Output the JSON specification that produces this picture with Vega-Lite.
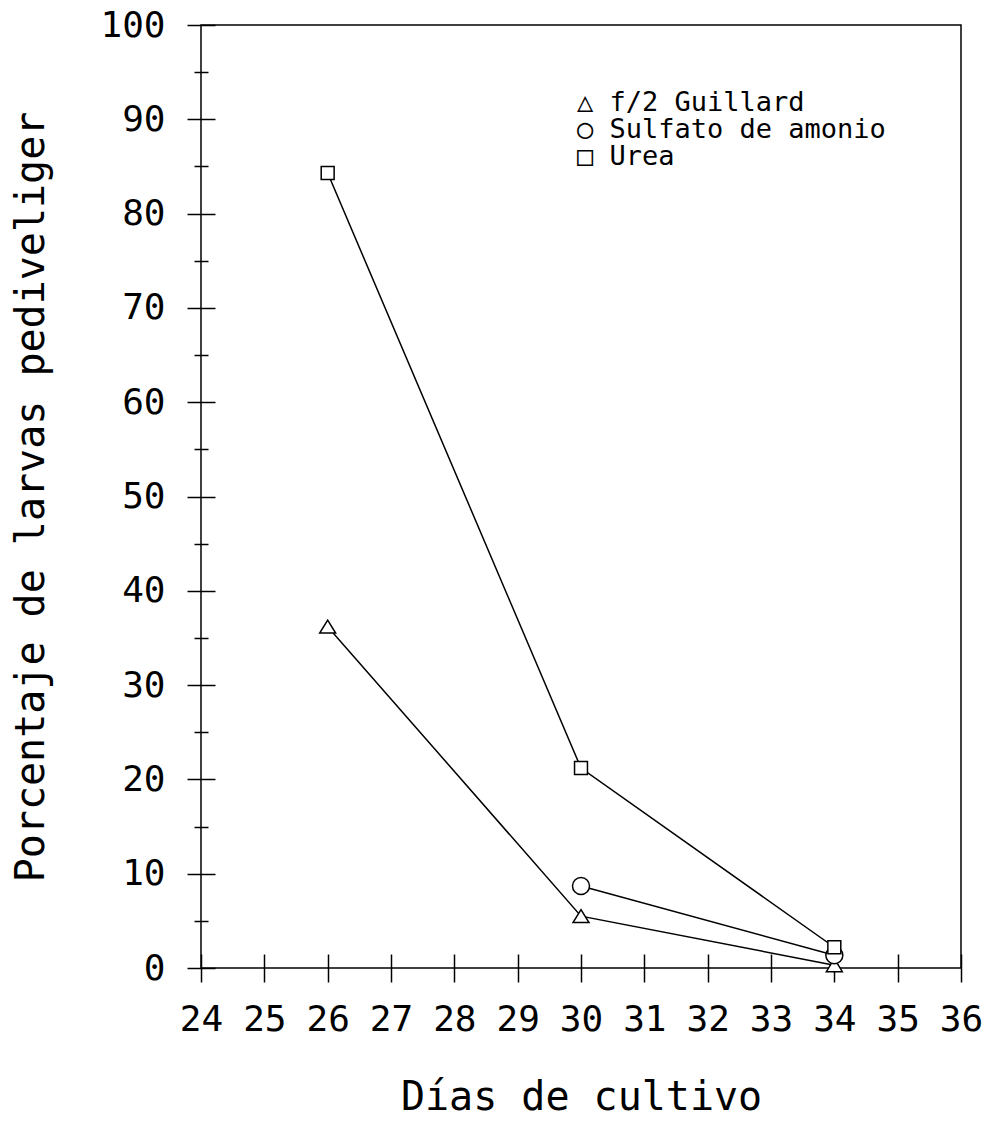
{
  "$schema": "https://vega.github.io/schema/vega-lite/v6.json",
  "width": 760,
  "height": 943,
  "autosize": "none",
  "padding": {"left": 201, "top": 25, "right": 33, "bottom": 155},
  "background": "white",
  "config": {
    "view": {"stroke": "black", "strokeWidth": 1.5},
    "font": "DejaVu Sans Mono",
    "axis": {"domain": false, "grid": false, "tickColor": "black", "tickWidth": 1.5, "labelColor": "black", "titleColor": "black", "titleFontWeight": "normal", "labelFontWeight": "normal", "labelFont": "DejaVu Sans Mono", "titleFont": "DejaVu Sans Mono"},
    "legend": {"labelFont": "DejaVu Sans Mono"}
  },
  "data": {
    "values": [
      {"dia": 26, "pct": 36.2, "serie": "f/2 Guillard"},
      {"dia": 30, "pct": 5.5, "serie": "f/2 Guillard"},
      {"dia": 34, "pct": 0.3, "serie": "f/2 Guillard"},
      {"dia": 30, "pct": 8.7, "serie": "Sulfato de amonio"},
      {"dia": 34, "pct": 1.35, "serie": "Sulfato de amonio"},
      {"dia": 26, "pct": 84.3, "serie": "Urea"},
      {"dia": 30, "pct": 21.2, "serie": "Urea"},
      {"dia": 34, "pct": 2.2, "serie": "Urea"}
    ]
  },
  "layer": [
    {
      "mark": {"type": "line", "color": "black", "strokeWidth": 1.5},
      "encoding": {
        "x": {
          "field": "dia", "type": "quantitative",
          "scale": {"domain": [24, 36], "nice": false, "zero": false},
          "axis": {
            "orient": "bottom",
            "values": [24, 25, 26, 27, 28, 29, 30, 31, 32, 33, 34, 35, 36],
            "format": "d", "labelOverlap": false, "labelBound": false,
            "offset": -14, "tickSize": 28, "labelPadding": 20,
            "labelFontSize": 36, "labelFlush": false,
            "title": "Días de cultivo", "titleFontSize": 40, "titlePadding": 40
          }
        },
        "y": {
          "field": "pct", "type": "quantitative",
          "scale": {"domain": [0, 100], "nice": false},
          "axis": {
            "orient": "left",
            "values": [0, 10, 20, 30, 40, 50, 60, 70, 80, 90, 100],
            "format": "d", "labelOverlap": false,
            "offset": -14, "tickSize": 28, "labelPadding": 22,
            "labelFontSize": 36, "labelFlush": false,
            "title": "Porcentaje de larvas pediveliger", "titleFontSize": 40, "titlePadding": 48
          }
        },
        "detail": {"field": "serie"}
      }
    },
    {
      "mark": {"type": "point", "filled": false, "fill": "white", "fillOpacity": 1, "stroke": "black", "strokeWidth": 1.5, "opacity": 1, "size": 289},
      "encoding": {
        "x": {"field": "dia", "type": "quantitative"},
        "y": {
          "field": "pct", "type": "quantitative",
          "axis": {
            "orient": "left",
            "values": [5, 15, 25, 35, 45, 55, 65, 75, 85, 95],
            "offset": -7, "tickSize": 14, "labels": false, "title": null
          }
        },
        "shape": {
          "field": "serie", "type": "nominal",
          "scale": {"domain": ["f/2 Guillard", "Sulfato de amonio", "Urea"], "range": ["M0,-0.76L0.94,0.76L-0.94,0.76Z", "circle", "M-0.76,-0.76L0.76,-0.76L0.76,0.76L-0.76,0.76Z"]},
          "legend": {
            "title": null, "orient": "none", "legendX": 337, "legendY": 64,
            "labelFontSize": 27, "labelColor": "black", "labelOffset": 12, "labelLimit": 0,
            "labelExpr": "datum.label === 'f/2 Guillard' ? '△ f/2 Guillard' : datum.label === 'Sulfato de amonio' ? '○ Sulfato de amonio' : '□ Urea'",
            "symbolSize": 150, "symbolOpacity": 0,
            "rowPadding": -4
          }
        }
      }
    }
  ],
  "resolve": {"axis": {"y": "independent"}}
}
